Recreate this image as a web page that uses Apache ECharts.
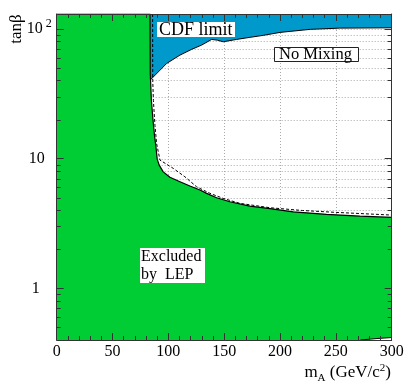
<!DOCTYPE html>
<html>
<head>
<meta charset="utf-8">
<script src="https://cdn.jsdelivr.net/npm/echarts@6/dist/echarts.min.js"></script>
<style>
  html, body { margin: 0; padding: 0; background: #fff; }
  #chart { width: 407px; height: 384px; }
</style>
</head>
<body>
<div id="chart"></div>
<script>
// ---- data ----
const xMin = 0, xMax = 300;
const yMin = 0.4, yMax = 130;
const xTickLabels = [0, 50, 100, 150, 200, 250, 300];
const xGridValues = [50, 100, 150, 200, 250];
const yTickLabels = [1, 10, 100];
const yMinorTicks = [0.5, 0.6, 0.7, 0.8, 0.9, 2, 3, 4, 5, 6, 7, 8, 9, 20, 30, 40, 50, 60, 70, 80, 90];

// LEP excluded region boundary (solid)
const lepMA   = [0, 83.6, 83.8, 84.8, 86.2, 87.6, 88.8, 90, 91.8, 95.4, 101.4, 110.4, 119.3, 128.3, 134.3, 143.2, 155.1, 173, 191, 211.8, 241.6, 271.5, 300];
const lepTanB = [130, 130, 45, 28, 20, 15, 12.5, 9.9, 8.9, 7.9, 7.17, 6.63, 6.14, 5.72, 5.39, 4.99, 4.65, 4.3, 4.12, 3.89, 3.72, 3.6, 3.52];

// dashed (expected) boundary
const dashMA   = [85.9, 86.0, 86.6, 88, 89.5, 92.5, 104.4, 114.8, 125.3, 137.2, 149.1, 164, 191, 220, 250, 300];
const dashTanB = [130, 40, 28, 18, 13, 9.73, 8.4, 7.24, 6.06, 5.4, 4.93, 4.52, 4.18, 3.98, 3.85, 3.67];

// CDF limit lower boundary
const cdfMA   = [83.8, 98.5, 110.4, 120.8, 129.8, 138.7, 143.7, 149.1, 161, 173, 185, 200, 227, 253.5, 300];
const cdfTanB = [40.3, 54.1, 62.7, 69.4, 74.9, 82.8, 81.8, 79.4, 82.8, 85.9, 89, 93.8, 99, 101.2, 101.8];

// small allowed sliver at low tanB, high mA
const lowMA   = [272, 286, 300];
const lowTanB = [0.4, 0.41, 0.418];

const GREEN = '#00cc33';
const BLUE = '#0099cc';
const FONT = 'Liberation Serif';

const zip = (a, b) => a.map((v, i) => [v, b[i]]);

const chart = echarts.init(document.getElementById('chart'), null, { renderer: 'canvas' });

function yLabel(v) {
  if (Math.abs(v - 100) < 1e-6) return '{a|10}{s|2}';
  if (Math.abs(v - 10) < 1e-6) return '{t|10}';
  if (Math.abs(v - 1) < 1e-6) return '{o|1}';
  return '';
}

const axisLineStyle = { color: '#333', width: 1 };
const GRID_STYLE = { stroke: '#aaa', lineWidth: 1, lineDash: [1, 2] };

const option = {
  animation: false,
  backgroundColor: '#fff',
  grid: { left: 56.7, right: 15.3, top: 14, bottom: 44, containLabel: false },
  xAxis: [
    {
      type: 'value', min: xMin, max: xMax, interval: 50, position: 'bottom', z: 20,
      axisLine: { show: true, onZero: false, lineStyle: axisLineStyle },
      axisTick: { show: true, inside: true, length: 7, lineStyle: { color: '#333' } },
      minorTick: { show: true, splitNumber: 5, length: 4, lineStyle: { color: '#333' } },
      axisLabel: {
        margin: 4, color: '#000', fontFamily: FONT, fontSize: 16,
        formatter: v => (xTickLabels.indexOf(v) >= 0 ? String(v) : '')
      },
      splitLine: { show: false }
    },
    {
      type: 'value', min: xMin, max: xMax, interval: 50, position: 'top', z: 20,
      axisLine: { show: true, onZero: false, lineStyle: axisLineStyle },
      axisTick: { show: true, inside: true, length: 7, lineStyle: { color: '#333' } },
      minorTick: { show: true, splitNumber: 5, length: 4, lineStyle: { color: '#333' } },
      axisLabel: { show: false },
      splitLine: { show: false }
    }
  ],
  yAxis: [
    {
      type: 'log', logBase: 10, min: yMin, max: yMax, position: 'left', z: 20,
      axisLine: { show: true, onZero: false, lineStyle: axisLineStyle },
      axisTick: { show: true, inside: true, length: 7, lineStyle: { color: '#333' } },
      axisLabel: {
        margin: 5, color: '#000', fontFamily: FONT, fontSize: 16,
        showMinLabel: false, showMaxLabel: false,
        formatter: yLabel,
        rich: {
          a: { fontFamily: FONT, fontSize: 16, color: '#000', padding: [0, 3, 0, 0] },
          s: { fontFamily: FONT, fontSize: 12, color: '#000', padding: [0, 0, 10, 0] },
          t: { fontFamily: FONT, fontSize: 16, color: '#000', padding: [0, 7, 0, 0] },
          o: { fontFamily: FONT, fontSize: 16, color: '#000', padding: [0, 12, 0, 0] }
        }
      },
      splitLine: { show: false }
    },
    {
      type: 'log', logBase: 10, min: yMin, max: yMax, position: 'right', z: 20,
      axisLine: { show: true, onZero: false, lineStyle: axisLineStyle },
      axisTick: { show: true, inside: true, length: 7, lineStyle: { color: '#333' } },
      axisLabel: { show: false },
      splitLine: { show: false }
    }
  ],
  series: [
    // horizontal gridlines (under the filled regions)
    {
      type: 'custom', z: 1, silent: true,
      data: yTickLabels.concat(yMinorTicks).map(v => [xMin, v]),
      encode: { x: 0, y: 1 },
      renderItem: function (params, api) {
        const v = api.value(1);
        const p0 = api.coord([xMin, v]);
        const p1 = api.coord([xMax, v]);
        const y = Math.round(p0[1]) + 0.5;
        return { type: 'line', shape: { x1: p0[0], y1: y, x2: p1[0], y2: y }, style: GRID_STYLE };
      }
    },
    // vertical gridlines
    {
      type: 'custom', z: 1, silent: true,
      data: xGridValues.map(v => [v, yMin]),
      encode: { x: 0, y: 1 },
      renderItem: function (params, api) {
        const v = api.value(0);
        const p0 = api.coord([v, yMin]);
        const p1 = api.coord([v, yMax]);
        const x = Math.round(p0[0]) + 0.5;
        return { type: 'line', shape: { x1: x, y1: p0[1], x2: x, y2: p1[1] }, style: GRID_STYLE };
      }
    },
    // CDF limit region (fills up to top)
    {
      type: 'line', z: 2, symbol: 'none', smooth: false,
      data: zip(cdfMA, cdfTanB),
      lineStyle: { color: '#000', width: 1 },
      areaStyle: { color: BLUE, opacity: 1, origin: 'end' }
    },
    // LEP excluded region
    {
      type: 'line', z: 3, symbol: 'none', smooth: false,
      data: zip(lepMA, lepTanB),
      lineStyle: { color: '#000', width: 1.2 },
      areaStyle: { color: GREEN, opacity: 1, origin: 'start' }
    },
    // small allowed sliver at bottom right
    {
      type: 'line', z: 4, symbol: 'none',
      data: zip(lowMA, lowTanB),
      lineStyle: { color: '#000', width: 1 },
      areaStyle: { color: '#fff', opacity: 1, origin: 'start' }
    },
    // dashed boundary
    {
      type: 'line', z: 5, symbol: 'none',
      data: zip(dashMA, dashTanB),
      lineStyle: { color: '#000', width: 1, type: [3, 2] }
    },
    // minor ticks on left and right y axes (above fills)
    {
      type: 'custom', z: 6, silent: true,
      data: yMinorTicks.map(v => [xMin, v]),
      encode: { x: 0, y: 1 },
      renderItem: function (params, api) {
        const v = api.value(1);
        const p0 = api.coord([xMin, v]);
        const p1 = api.coord([xMax, v]);
        const y = Math.round(p0[1]) + 0.5;
        return {
          type: 'group',
          children: [
            { type: 'line', shape: { x1: p0[0], y1: y, x2: p0[0] + 4, y2: y }, style: { stroke: '#333', lineWidth: 1 } },
            { type: 'line', shape: { x1: p1[0] - 4, y1: y, x2: p1[0], y2: y }, style: { stroke: '#333', lineWidth: 1 } }
          ]
        };
      }
    }
  ],
  graphic: [
    // axis titles
    {
      type: 'text', x: 17, y: 29, rotation: Math.PI / 2, z: 100,
      style: { text: 'tanβ', fill: '#000', font: '17px "Liberation Serif"', textAlign: 'center', textVerticalAlign: 'middle' }
    },
    {
      type: 'text', x: 391, y: 373, z: 100,
      style: {
        text: '{m|m}{sub|A}{m| (GeV/c}{sup|2}{m|)}',
        textAlign: 'right', textVerticalAlign: 'middle',
        rich: {
          m: { fontFamily: FONT, fontSize: 17, fill: '#000' },
          sub: { fontFamily: FONT, fontSize: 11, fill: '#000', padding: [10, 0, 0, 0] },
          sup: { fontFamily: FONT, fontSize: 11, fill: '#000', padding: [0, 0, 10, 0] }
        }
      }
    },
    // CDF limit label
    {
      type: 'rect', z: 100, shape: { x: 157, y: 22, width: 78, height: 15 },
      style: { fill: '#fff', stroke: null }
    },
    {
      type: 'text', x: 159, y: 30, z: 101,
      style: { text: 'CDF limit', fill: '#000', font: '18px "Liberation Serif"', textAlign: 'left', textVerticalAlign: 'middle' }
    },
    // No Mixing label
    {
      type: 'rect', z: 100, shape: { x: 274.5, y: 47.5, width: 84, height: 14 },
      style: { fill: '#fff', stroke: '#222', lineWidth: 1 }
    },
    {
      type: 'text', x: 279, y: 55, z: 101,
      style: { text: 'No Mixing', fill: '#000', font: '16.5px "Liberation Serif"', textAlign: 'left', textVerticalAlign: 'middle' }
    },
    // Excluded by LEP label
    {
      type: 'rect', z: 100, shape: { x: 140, y: 248, width: 65, height: 35 },
      style: { fill: '#fff', stroke: null }
    },
    {
      type: 'text', x: 141, y: 257, z: 101,
      style: { text: 'Excluded', fill: '#000', font: '16px "Liberation Serif"', textAlign: 'left', textVerticalAlign: 'middle' }
    },
    {
      type: 'text', x: 141, y: 275, z: 101,
      style: { text: 'by  LEP', fill: '#000', font: '16px "Liberation Serif"', textAlign: 'left', textVerticalAlign: 'middle' }
    }
  ]
};

chart.setOption(option);
</script>
</body>
</html>
